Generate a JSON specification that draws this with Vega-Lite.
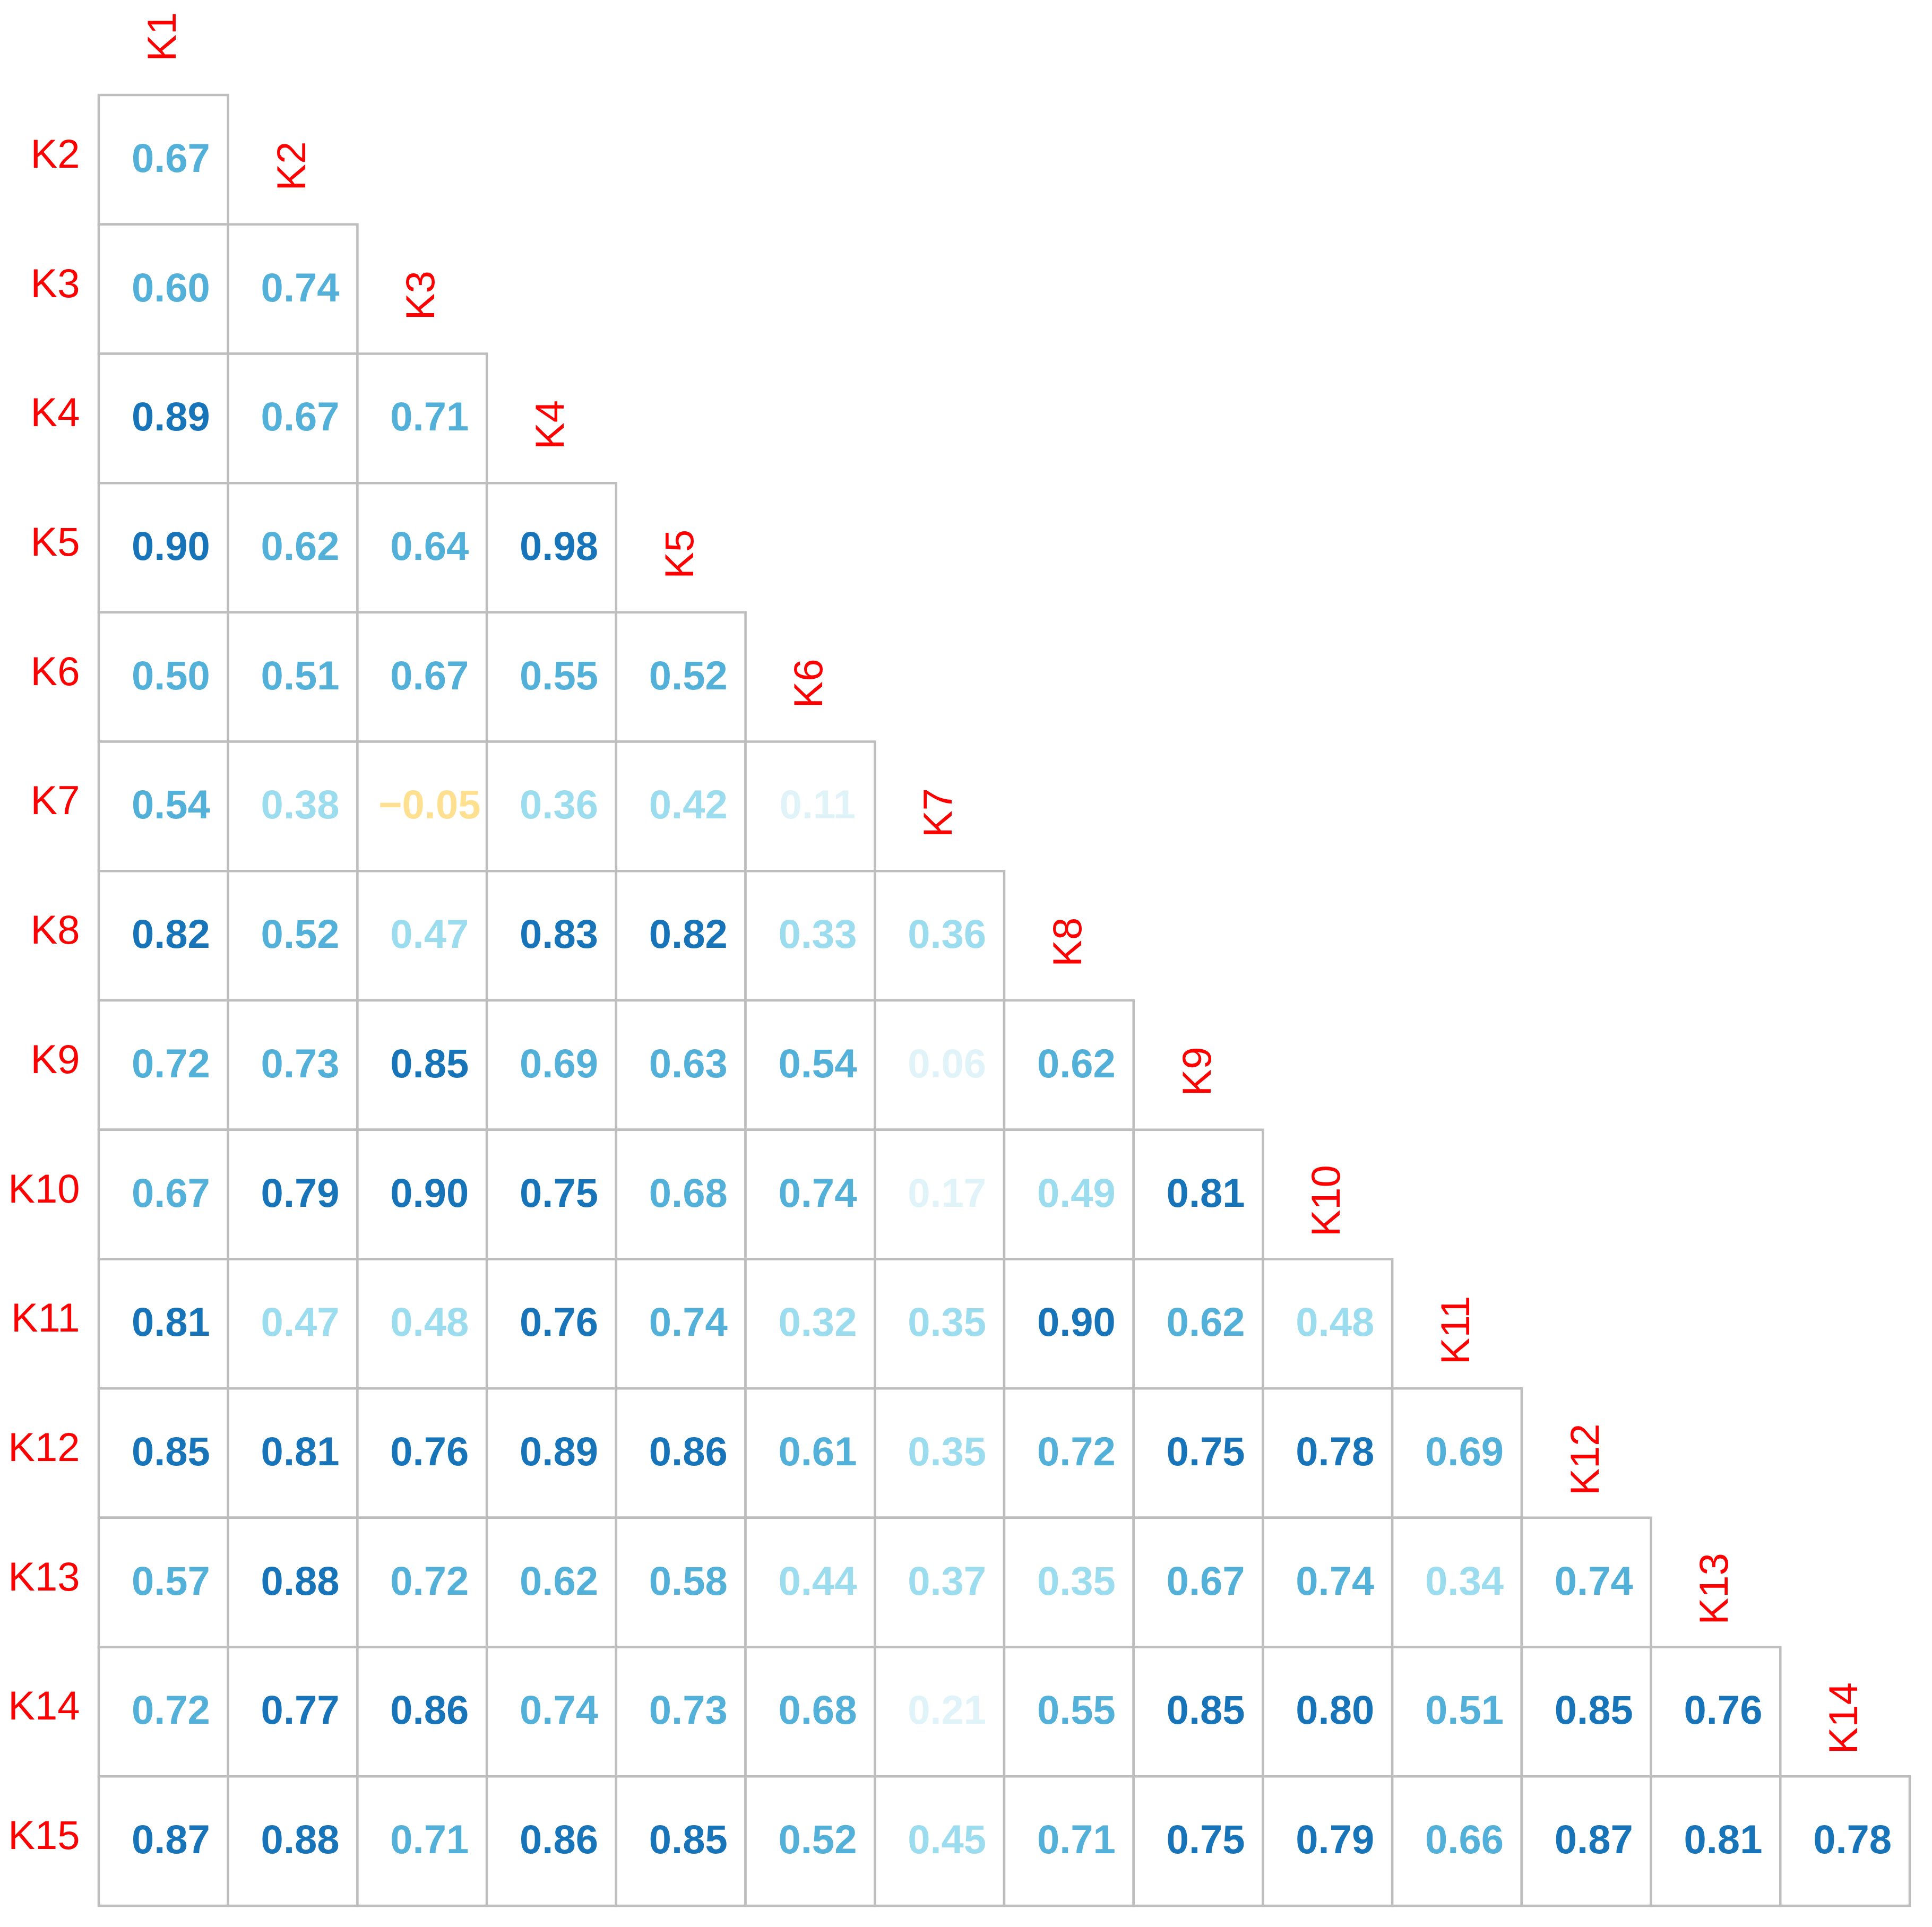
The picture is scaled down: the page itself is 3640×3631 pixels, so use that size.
{
  "$schema": "https://vega.github.io/schema/vega-lite/v6.json",
  "width": 3412,
  "height": 3412,
  "autosize": {"type": "none"},
  "padding": {"left": 186, "top": 179, "right": 42, "bottom": 40},
  "background": "white",
  "config": {"view": {"stroke": null}},
  "datasets": {
    "cells": [
      {"row": "K2", "col": "K1", "r": 0.67},
      {"row": "K3", "col": "K1", "r": 0.60}, {"row": "K3", "col": "K2", "r": 0.74},
      {"row": "K4", "col": "K1", "r": 0.89}, {"row": "K4", "col": "K2", "r": 0.67}, {"row": "K4", "col": "K3", "r": 0.71},
      {"row": "K5", "col": "K1", "r": 0.90}, {"row": "K5", "col": "K2", "r": 0.62}, {"row": "K5", "col": "K3", "r": 0.64}, {"row": "K5", "col": "K4", "r": 0.98},
      {"row": "K6", "col": "K1", "r": 0.50}, {"row": "K6", "col": "K2", "r": 0.51}, {"row": "K6", "col": "K3", "r": 0.67}, {"row": "K6", "col": "K4", "r": 0.55}, {"row": "K6", "col": "K5", "r": 0.52},
      {"row": "K7", "col": "K1", "r": 0.54}, {"row": "K7", "col": "K2", "r": 0.38}, {"row": "K7", "col": "K3", "r": -0.05}, {"row": "K7", "col": "K4", "r": 0.36}, {"row": "K7", "col": "K5", "r": 0.42}, {"row": "K7", "col": "K6", "r": 0.11},
      {"row": "K8", "col": "K1", "r": 0.82}, {"row": "K8", "col": "K2", "r": 0.52}, {"row": "K8", "col": "K3", "r": 0.47}, {"row": "K8", "col": "K4", "r": 0.83}, {"row": "K8", "col": "K5", "r": 0.82}, {"row": "K8", "col": "K6", "r": 0.33}, {"row": "K8", "col": "K7", "r": 0.36},
      {"row": "K9", "col": "K1", "r": 0.72}, {"row": "K9", "col": "K2", "r": 0.73}, {"row": "K9", "col": "K3", "r": 0.85}, {"row": "K9", "col": "K4", "r": 0.69}, {"row": "K9", "col": "K5", "r": 0.63}, {"row": "K9", "col": "K6", "r": 0.54}, {"row": "K9", "col": "K7", "r": 0.06}, {"row": "K9", "col": "K8", "r": 0.62},
      {"row": "K10", "col": "K1", "r": 0.67}, {"row": "K10", "col": "K2", "r": 0.79}, {"row": "K10", "col": "K3", "r": 0.90}, {"row": "K10", "col": "K4", "r": 0.75}, {"row": "K10", "col": "K5", "r": 0.68}, {"row": "K10", "col": "K6", "r": 0.74}, {"row": "K10", "col": "K7", "r": 0.17}, {"row": "K10", "col": "K8", "r": 0.49}, {"row": "K10", "col": "K9", "r": 0.81},
      {"row": "K11", "col": "K1", "r": 0.81}, {"row": "K11", "col": "K2", "r": 0.47}, {"row": "K11", "col": "K3", "r": 0.48}, {"row": "K11", "col": "K4", "r": 0.76}, {"row": "K11", "col": "K5", "r": 0.74}, {"row": "K11", "col": "K6", "r": 0.32}, {"row": "K11", "col": "K7", "r": 0.35}, {"row": "K11", "col": "K8", "r": 0.90}, {"row": "K11", "col": "K9", "r": 0.62}, {"row": "K11", "col": "K10", "r": 0.48},
      {"row": "K12", "col": "K1", "r": 0.85}, {"row": "K12", "col": "K2", "r": 0.81}, {"row": "K12", "col": "K3", "r": 0.76}, {"row": "K12", "col": "K4", "r": 0.89}, {"row": "K12", "col": "K5", "r": 0.86}, {"row": "K12", "col": "K6", "r": 0.61}, {"row": "K12", "col": "K7", "r": 0.35}, {"row": "K12", "col": "K8", "r": 0.72}, {"row": "K12", "col": "K9", "r": 0.75}, {"row": "K12", "col": "K10", "r": 0.78}, {"row": "K12", "col": "K11", "r": 0.69},
      {"row": "K13", "col": "K1", "r": 0.57}, {"row": "K13", "col": "K2", "r": 0.88}, {"row": "K13", "col": "K3", "r": 0.72}, {"row": "K13", "col": "K4", "r": 0.62}, {"row": "K13", "col": "K5", "r": 0.58}, {"row": "K13", "col": "K6", "r": 0.44}, {"row": "K13", "col": "K7", "r": 0.37}, {"row": "K13", "col": "K8", "r": 0.35}, {"row": "K13", "col": "K9", "r": 0.67}, {"row": "K13", "col": "K10", "r": 0.74}, {"row": "K13", "col": "K11", "r": 0.34}, {"row": "K13", "col": "K12", "r": 0.74},
      {"row": "K14", "col": "K1", "r": 0.72}, {"row": "K14", "col": "K2", "r": 0.77}, {"row": "K14", "col": "K3", "r": 0.86}, {"row": "K14", "col": "K4", "r": 0.74}, {"row": "K14", "col": "K5", "r": 0.73}, {"row": "K14", "col": "K6", "r": 0.68}, {"row": "K14", "col": "K7", "r": 0.21}, {"row": "K14", "col": "K8", "r": 0.55}, {"row": "K14", "col": "K9", "r": 0.85}, {"row": "K14", "col": "K10", "r": 0.80}, {"row": "K14", "col": "K11", "r": 0.51}, {"row": "K14", "col": "K12", "r": 0.85}, {"row": "K14", "col": "K13", "r": 0.76},
      {"row": "K15", "col": "K1", "r": 0.87}, {"row": "K15", "col": "K2", "r": 0.88}, {"row": "K15", "col": "K3", "r": 0.71}, {"row": "K15", "col": "K4", "r": 0.86}, {"row": "K15", "col": "K5", "r": 0.85}, {"row": "K15", "col": "K6", "r": 0.52}, {"row": "K15", "col": "K7", "r": 0.45}, {"row": "K15", "col": "K8", "r": 0.71}, {"row": "K15", "col": "K9", "r": 0.75}, {"row": "K15", "col": "K10", "r": 0.79}, {"row": "K15", "col": "K11", "r": 0.66}, {"row": "K15", "col": "K12", "r": 0.87}, {"row": "K15", "col": "K13", "r": 0.81}, {"row": "K15", "col": "K14", "r": 0.78}
    ],
    "diag": [
      {"label": "K1", "below": "K2"}, {"label": "K2", "below": "K3"}, {"label": "K3", "below": "K4"},
      {"label": "K4", "below": "K5"}, {"label": "K5", "below": "K6"}, {"label": "K6", "below": "K7"},
      {"label": "K7", "below": "K8"}, {"label": "K8", "below": "K9"}, {"label": "K9", "below": "K10"},
      {"label": "K10", "below": "K11"}, {"label": "K11", "below": "K12"}, {"label": "K12", "below": "K13"},
      {"label": "K13", "below": "K14"}, {"label": "K14", "below": "K15"}
    ]
  },
  "layer": [
    {
      "data": {"name": "cells"},
      "mark": {"type": "rect", "fill": "white", "stroke": "#bebebe", "strokeWidth": 4.5},
      "encoding": {
        "x": {"field": "col", "type": "nominal", "scale": {"domain": ["K1","K2","K3","K4","K5","K6","K7","K8","K9","K10","K11","K12","K13","K14"], "paddingInner": 0, "paddingOuter": 0}, "axis": null},
        "y": {"field": "row", "type": "nominal", "scale": {"domain": ["K2","K3","K4","K5","K6","K7","K8","K9","K10","K11","K12","K13","K14","K15"], "paddingInner": 0, "paddingOuter": 0},
              "axis": {"title": null, "ticks": false, "domain": false, "grid": false, "labelFont": "Liberation Sans", "labelFontSize": 76, "labelColor": "#ff0000", "labelPadding": 36, "labelOffset": -8}}
      }
    },
    {
      "data": {"name": "cells"},
      "mark": {"type": "text", "font": "Liberation Sans", "fontWeight": "bold", "fontSize": 76, "dx": 14, "baseline": "middle"},
      "encoding": {
        "x": {"field": "col", "type": "nominal"},
        "y": {"field": "row", "type": "nominal"},
        "text": {"field": "r", "type": "quantitative", "format": ".2f"},
        "color": {"field": "r", "type": "quantitative", "legend": null,
                  "scale": {"type": "threshold", "domain": [0, 0.25, 0.5, 0.75], "range": ["#fee090", "#dff3f9", "#9bdcee", "#52b0d9", "#1874b8"]}}
      }
    },
    {
      "data": {"name": "diag"},
      "mark": {"type": "text", "font": "Liberation Sans", "fontSize": 76, "color": "#ff0000", "angle": 270, "align": "center", "baseline": "middle"},
      "encoding": {
        "x": {"field": "label", "type": "nominal"},
        "y": {"field": "below", "type": "nominal", "bandPosition": -0.45},
        "text": {"field": "label"}
      }
    }
  ]
}
